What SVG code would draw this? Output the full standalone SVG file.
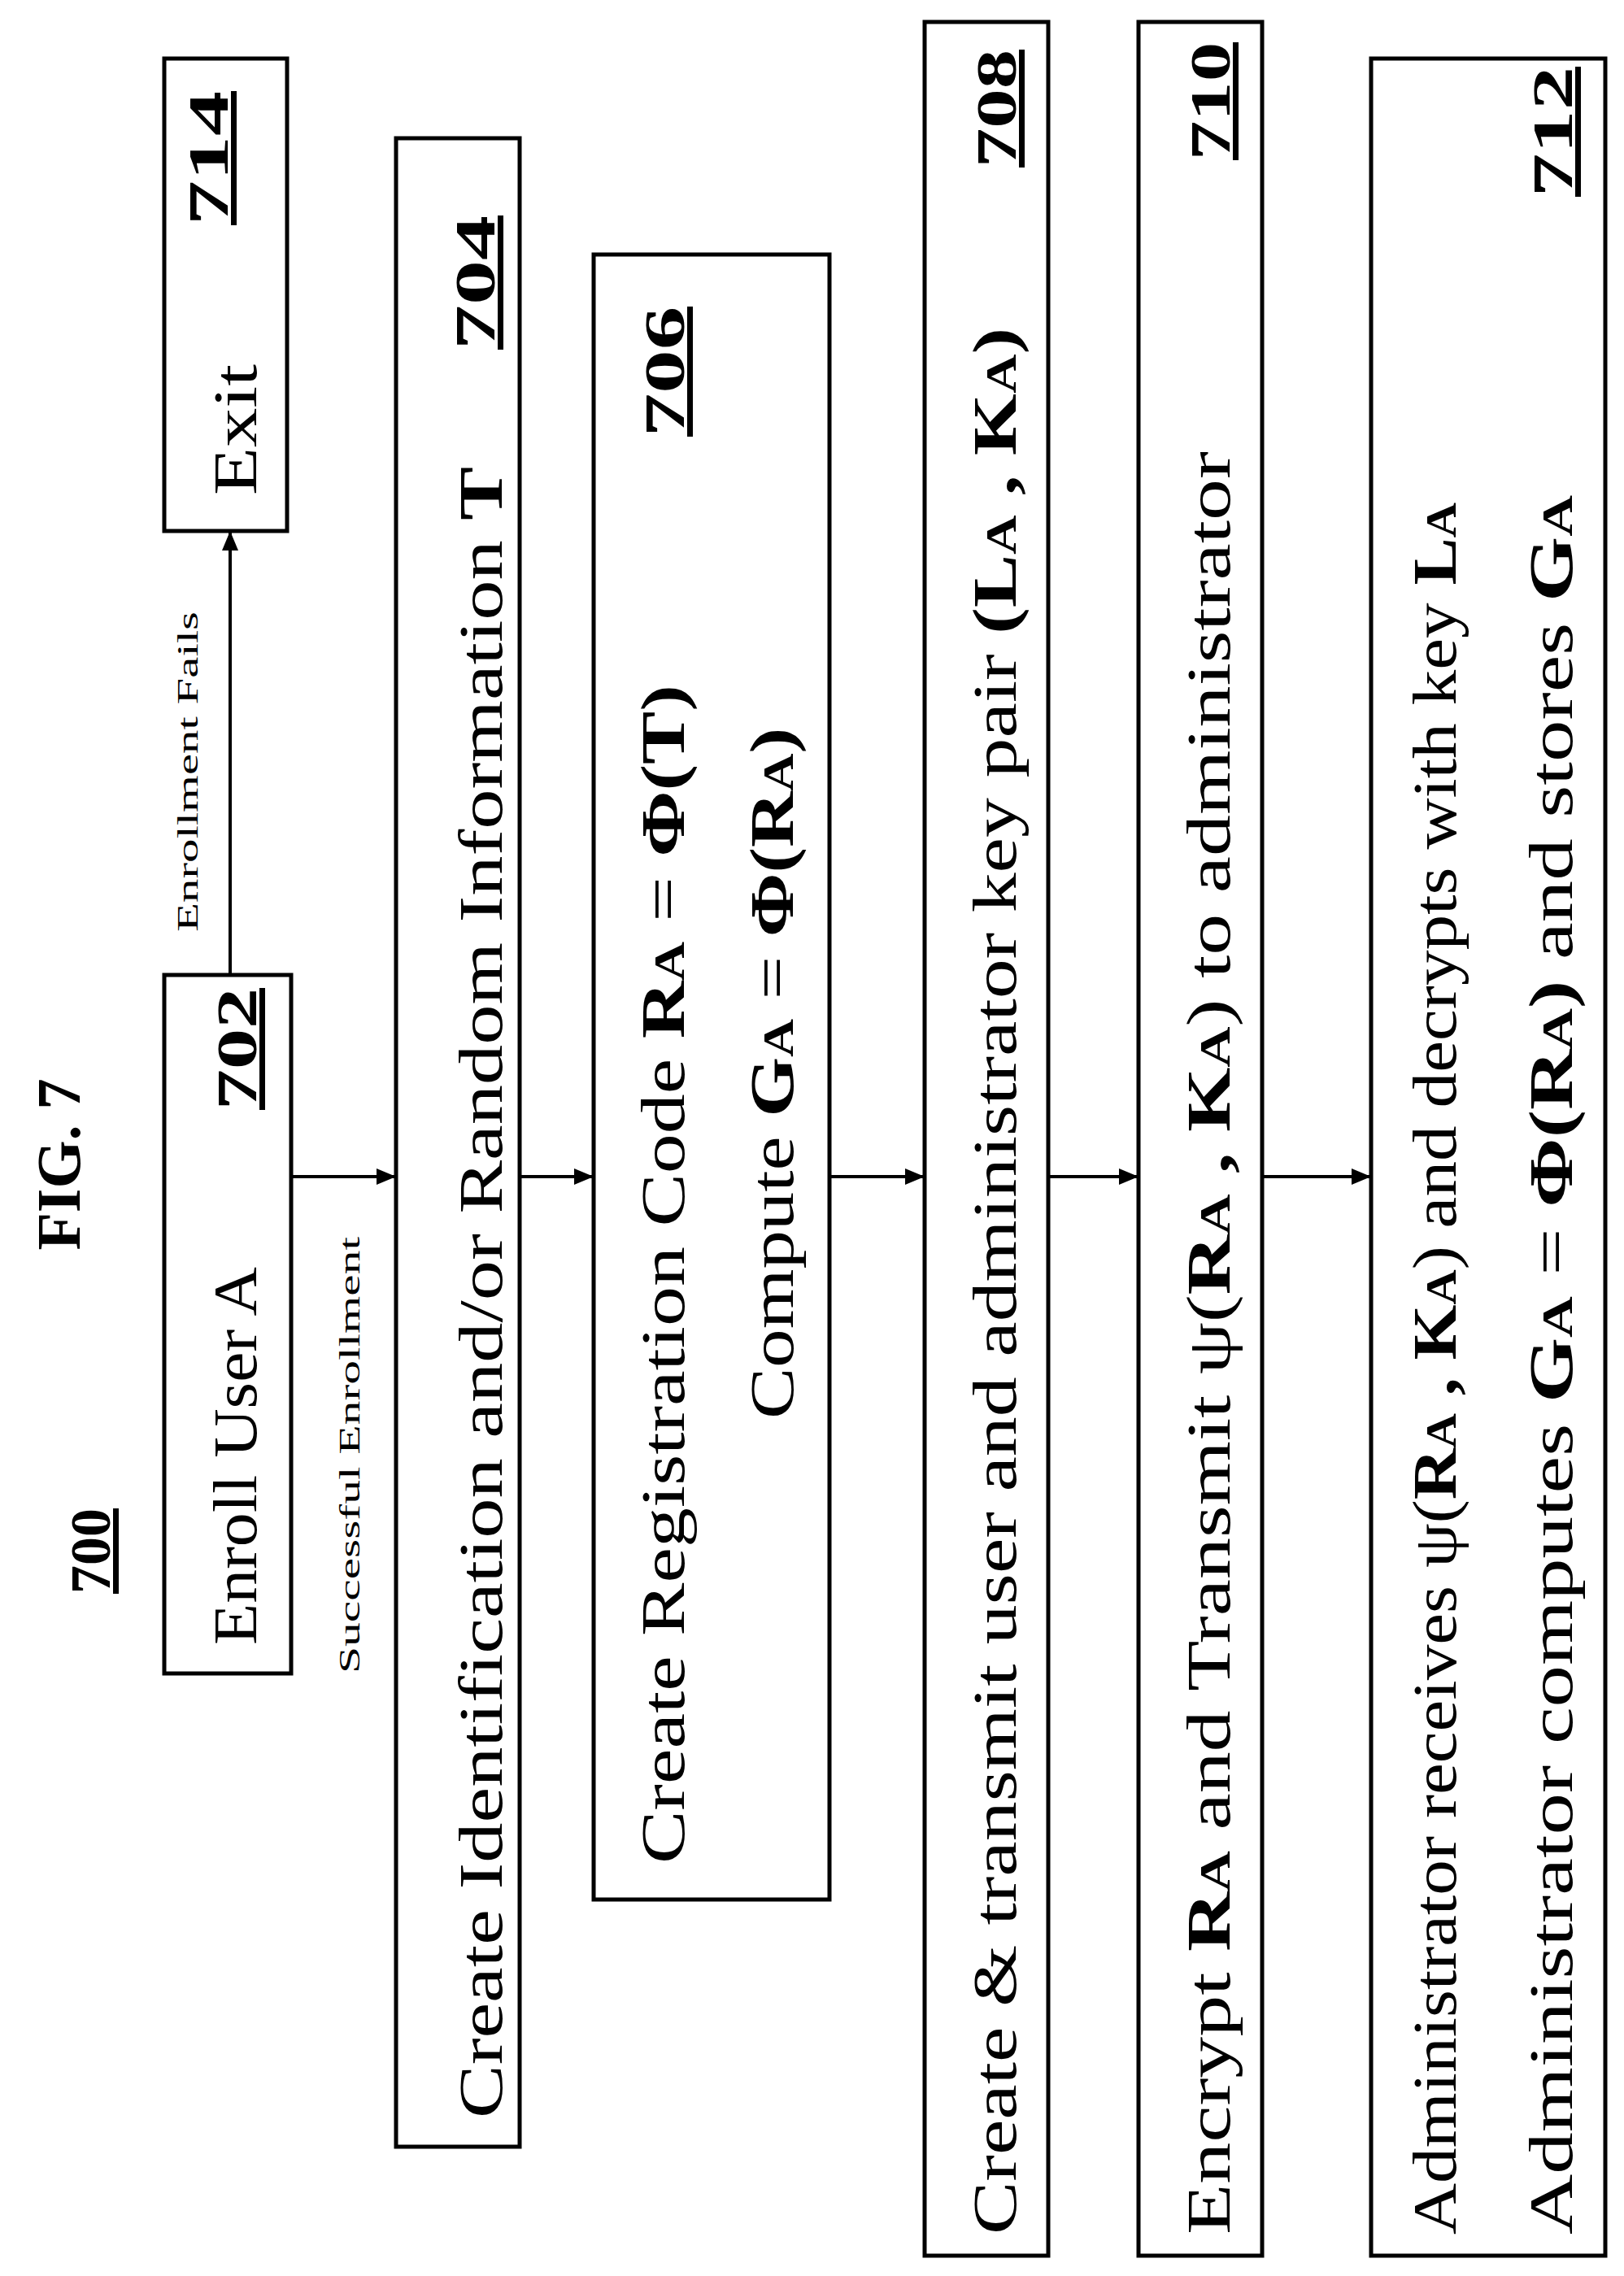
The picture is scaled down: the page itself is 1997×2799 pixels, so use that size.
<svg xmlns="http://www.w3.org/2000/svg" width="1997" height="2799" viewBox="0 0 1997 2799">
<style>
.b{fill:#fff;stroke:#000;stroke-width:5}
.t{font-family:"Liberation Serif",serif;font-size:76px;fill:#000}
.n{font-family:"Liberation Serif",serif;font-size:70px;font-weight:bold;text-decoration:underline;fill:#000}
.s{font-family:"Liberation Serif",serif;font-size:36px;fill:#000}
.k{font-weight:bold}
.sub{font-size:52px}
</style>
<defs>
<marker id="a2" markerWidth="24" markerHeight="24" refX="22" refY="12" orient="auto" markerUnits="userSpaceOnUse"><path d="M0,2 L24,12 L0,22 Z" fill="#000"/></marker></defs>
<text class="t k" transform="translate(98,1432) rotate(-90)" text-anchor="middle" font-size="70">FIG. 7</text>
<text class="n" transform="translate(135,1960) rotate(-90)">700</text>
<g id="connectors">
<path d="M358,1447 H485" stroke="#000" stroke-width="4" marker-end="url(#a2)"/>
<path d="M639,1447 H728" stroke="#000" stroke-width="4" marker-end="url(#a2)"/>
<path d="M1020,1447 H1135" stroke="#000" stroke-width="4" marker-end="url(#a2)"/>
<path d="M1289,1447 H1398" stroke="#000" stroke-width="4" marker-end="url(#a2)"/>
<path d="M1552,1447 H1684" stroke="#000" stroke-width="4" marker-end="url(#a2)"/>
<path d="M283,1199 V655" stroke="#000" stroke-width="4" marker-end="url(#a2)"/>
<text class="s" transform="translate(442,2058) rotate(-90)" textLength="537" lengthAdjust="spacingAndGlyphs">Successful   Enrollment</text>
<text class="s" transform="translate(243,1146) rotate(-90)" textLength="394" lengthAdjust="spacingAndGlyphs">Enrollment Fails</text>
</g>
<g id="n702"><rect class="b" x="202" y="1199" width="156" height="859"/>
<text class="t" transform="translate(315,2023) rotate(-90)" textLength="465" lengthAdjust="spacingAndGlyphs">Enroll User A</text>
<text class="n" transform="translate(315,1365) rotate(-90)" textLength="150" lengthAdjust="spacingAndGlyphs">702</text></g>
<g id="n714"><rect class="b" x="202" y="72" width="151" height="581"/>
<text class="t" transform="translate(315,609) rotate(-90)" textLength="161" lengthAdjust="spacingAndGlyphs">Exit</text>
<text class="n" transform="translate(280,277) rotate(-90)" textLength="165" lengthAdjust="spacingAndGlyphs">714</text></g>
<g id="n704"><rect class="b" x="487" y="170" width="152" height="2470"/>
<text class="t" transform="translate(617,2605) rotate(-90)" textLength="2031" lengthAdjust="spacingAndGlyphs">Create Identification and/or Random Information <tspan class="k">T</tspan></text>
<text class="n" transform="translate(608,430) rotate(-90)" textLength="165" lengthAdjust="spacingAndGlyphs">704</text></g>
<g id="n706"><rect class="b" x="730" y="313" width="290" height="2023"/>
<text class="t" transform="translate(841,2292) rotate(-90)" textLength="1450" lengthAdjust="spacingAndGlyphs">Create Registration Code <tspan class="k">R<tspan class="sub">A</tspan></tspan> = <tspan class="k">Φ(T)</tspan></text>
<text class="n" transform="translate(841,537) rotate(-90)" textLength="160" lengthAdjust="spacingAndGlyphs">706</text>
<text class="t" transform="translate(975,1745) rotate(-90)" textLength="850" lengthAdjust="spacingAndGlyphs">Compute <tspan class="k">G<tspan class="sub">A</tspan></tspan> = <tspan class="k">Φ(R<tspan class="sub">A</tspan>)</tspan></text></g>
<g id="n708"><rect class="b" x="1137" y="27" width="152" height="2747"/>
<text class="t" transform="translate(1249,2748) rotate(-90)" textLength="2345" lengthAdjust="spacingAndGlyphs">Create &amp; transmit user and administrator key pair <tspan class="k">(L<tspan class="sub">A</tspan> , K<tspan class="sub">A</tspan>)</tspan></text>
<text class="n" transform="translate(1249,206) rotate(-90)" textLength="145" lengthAdjust="spacingAndGlyphs">708</text></g>
<g id="n710"><rect class="b" x="1400" y="27" width="152" height="2747"/>
<text class="t" transform="translate(1512,2748) rotate(-90)" textLength="2193" lengthAdjust="spacingAndGlyphs">Encrypt <tspan class="k">R<tspan class="sub">A</tspan></tspan> and Transmit  ψ(<tspan class="k">R<tspan class="sub">A</tspan> , K<tspan class="sub">A</tspan></tspan>) to administrator</text>
<text class="n" transform="translate(1512,197) rotate(-90)" textLength="145" lengthAdjust="spacingAndGlyphs">710</text></g>
<g id="n712"><rect class="b" x="1686" y="72" width="288" height="2702"/>
<text class="t" transform="translate(1790,2748) rotate(-90)" textLength="2130" lengthAdjust="spacingAndGlyphs">Administrator receives  ψ(<tspan class="k">R<tspan class="sub">A</tspan> , K<tspan class="sub">A</tspan></tspan>) and decrypts with key <tspan class="k">L<tspan class="sub">A</tspan></tspan></text>
<text class="t" transform="translate(1933,2748) rotate(-90)" textLength="2139" lengthAdjust="spacingAndGlyphs">Administrator computes <tspan class="k">G<tspan class="sub">A</tspan></tspan> = <tspan class="k">Φ(R<tspan class="sub">A</tspan>)</tspan> and stores <tspan class="k">G<tspan class="sub">A</tspan></tspan></text>
<text class="n" transform="translate(1933,242) rotate(-90)" textLength="160" lengthAdjust="spacingAndGlyphs">712</text></g>
</svg>
